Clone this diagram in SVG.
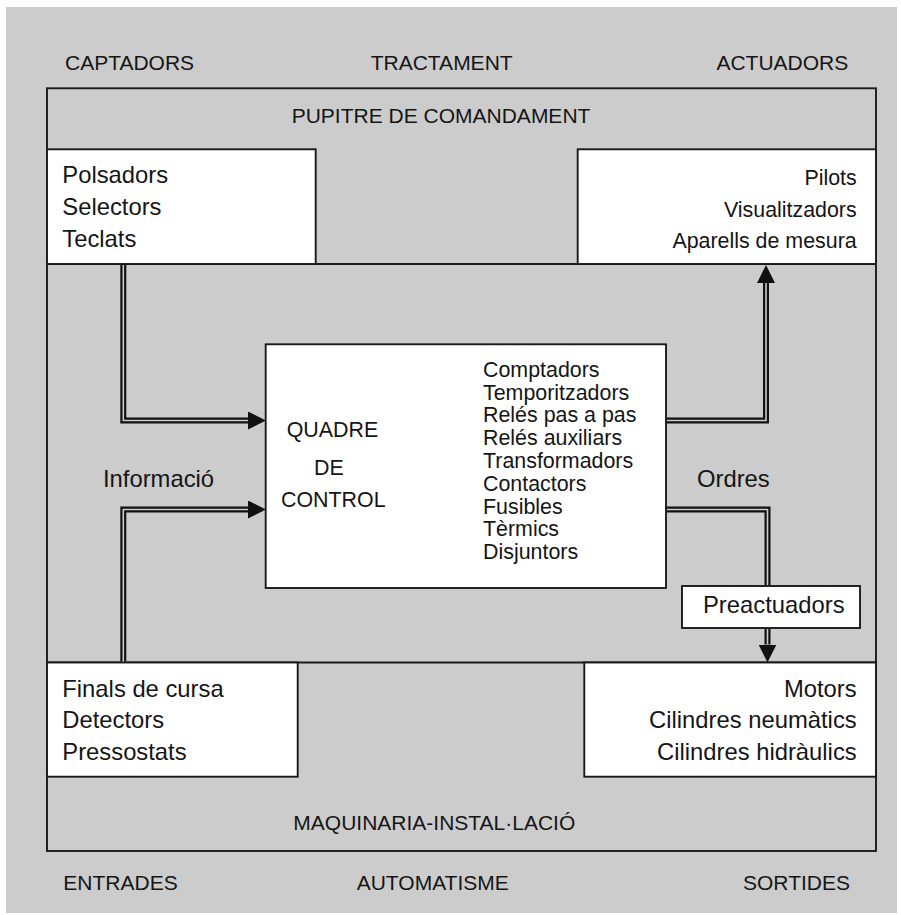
<svg xmlns="http://www.w3.org/2000/svg" width="901" height="915" viewBox="0 0 901 915">
<style>
text{font-family:"Liberation Sans",Arial,Helvetica,sans-serif;fill:#151515}
.lbl{font-size:21px}
.big{font-size:23.8px}
.mid{font-size:21.4px}
.end{text-anchor:end}
.box{fill:#fff;stroke:#1a1a1a;stroke-width:1.9}
.ln{fill:none;stroke:#1a1a1a;stroke-width:1.9}
.dbl{fill:none;stroke:#111;stroke-width:6;stroke-linejoin:miter}
.core{fill:none;stroke:#cccccc;stroke-width:1.6;stroke-linejoin:miter}
</style>
<defs>
<marker id="ah" markerUnits="userSpaceOnUse" viewBox="0 0 18 18" markerWidth="18" markerHeight="18" refX="0" refY="9" orient="auto">
<path d="M0,0 L18,9 L0,18 Z" fill="#111"/>
</marker>
</defs>
<rect x="0" y="0" width="901" height="915" fill="#fff"/>
<rect x="6" y="7" width="891" height="906" fill="#cccccc"/>

<g id="labels">
<text class="lbl" x="65" y="70">CAPTADORS</text>
<text class="lbl" x="370.7" y="70">TRACTAMENT</text>
<text class="lbl end" x="848.3" y="70">ACTUADORS</text>
<text class="lbl" x="63.3" y="890">ENTRADES</text>
<text class="lbl" x="356.7" y="890">AUTOMATISME</text>
<text class="lbl end" x="850" y="890">SORTIDES</text>
</g>

<g id="frame">
<rect class="ln" x="47" y="88.3" width="829" height="762.7"/>
<line class="ln" x1="47" y1="264" x2="876" y2="264"/>
<line class="ln" x1="47" y1="662.5" x2="876" y2="662.5"/>
<text class="lbl" x="291.7" y="122.7">PUPITRE DE COMANDAMENT</text>
<text class="lbl" x="293.3" y="830">MAQUINARIA-INSTAL·LACIÓ</text>
</g>

<g id="captadors-pupitre">
<rect class="box" x="47" y="149.3" width="268.7" height="114.7"/>
<text class="big" x="62.3" y="183.3">Polsadors</text>
<text class="big" x="62.3" y="215">Selectors</text>
<text class="big" x="62.3" y="246.7">Teclats</text>
</g>

<g id="actuadors-pupitre">
<rect class="box" x="577.7" y="149.3" width="298.3" height="114.7"/>
<text class="mid end" x="856.7" y="185">Pilots</text>
<text class="mid end" x="856.7" y="216.7">Visualitzadors</text>
<text class="mid end" x="856.7" y="248.3">Aparells de mesura</text>
</g>

<g id="captadors-maquinaria">
<rect class="box" x="47" y="662.5" width="250.7" height="114.2"/>
<text class="big" x="62.3" y="696.7">Finals de cursa</text>
<text class="big" x="62.3" y="728.3">Detectors</text>
<text class="big" x="62.3" y="760">Pressostats</text>
</g>

<g id="actuadors-maquinaria">
<rect class="box" x="584.3" y="662.5" width="291.7" height="114.2"/>
<text class="big end" x="856.7" y="696.7">Motors</text>
<text class="big end" x="856.7" y="728.3">Cilindres neumàtics</text>
<text class="big end" x="856.7" y="760">Cilindres hidràulics</text>
</g>

<g id="quadre-control">
<rect class="box" x="265.7" y="344.3" width="400.3" height="243.7"/>
<text class="mid" x="286.7" y="437">QUADRE</text>
<text class="mid" x="314" y="475">DE</text>
<text class="mid" x="281" y="506.7">CONTROL</text>
<g class="mid">
<text x="483" y="376.7">Comptadors</text>
<text x="483" y="399.5">Temporitzadors</text>
<text x="483" y="422.3">Relés pas a pas</text>
<text x="483" y="445.1">Relés auxiliars</text>
<text x="483" y="467.9">Transformadors</text>
<text x="483" y="490.7">Contactors</text>
<text x="483" y="513.5">Fusibles</text>
<text x="483" y="536.3">Tèrmics</text>
<text x="483" y="559.1">Disjuntors</text>
</g>
</g>

<g id="preactuadors">
<rect class="box" x="682" y="586" width="178" height="42"/>
<text class="big" x="703" y="613">Preactuadors</text>
</g>

<g id="connectors">
<path class="dbl" d="M123.3,265 V420.5 H248" marker-end="url(#ah)"/>
<path class="core" d="M123.3,265 V420.5 H248"/>
<path class="dbl" d="M123.3,661.5 V509.5 H248" marker-end="url(#ah)"/>
<path class="core" d="M123.3,661.5 V509.5 H248"/>
<path class="dbl" d="M667,420.5 H766 V283" marker-end="url(#ah)"/>
<path class="core" d="M667,420.5 H766 V283"/>
<path class="dbl" d="M667,509.5 H767.5 V585"/>
<path class="core" d="M667,509.5 H767.5 V585"/>
<path class="dbl" d="M767.5,629 V644.5" marker-end="url(#ah)"/>
<path class="core" d="M767.5,629 V644.5"/>
<text class="big" x="103" y="487">Informació</text>
<text class="big" x="697" y="487">Ordres</text>
</g>
</svg>
